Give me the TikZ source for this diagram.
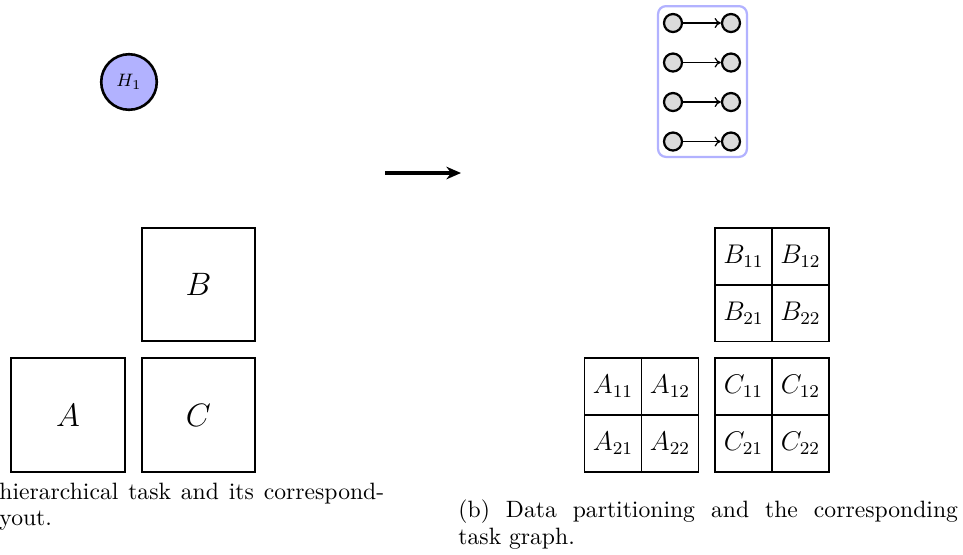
\documentclass[tikz,border=0pt]{standalone}
\usepackage{fontspec}
\usetikzlibrary{arrows.meta}
\begin{document}
\begin{tikzpicture}[x=0.4444pt,y=-0.4444pt,
  cell/.style={draw,line width=0.85pt,minimum size=25.3pt,inner sep=0pt,font=\fontsize{12}{14}\selectfont},
  bigbox/.style={draw,line width=0.85pt,minimum size=50.6pt,inner sep=0pt,font=\fontsize{13.5}{16}\selectfont},
  task/.style={circle,draw,line width=1pt,fill=black!14,minimum size=8pt,inner sep=0pt},
  htask/.style={circle,draw,line width=1.15pt,fill=blue!30,minimum size=24.7pt,inner sep=0pt,font=\fontsize{8.5}{10}\selectfont},
  dep/.style={-{To[length=2.8pt,width=4.5pt]},line width=0.55pt},
  group/.style={draw=blue!30,line width=1pt,rounded corners=3.5pt,minimum width=39.5pt,minimum height=67pt,inner sep=0pt},
  caption/.style={anchor=base west,inner sep=0pt,font=\fontsize{10.5}{12.6}\selectfont}]
\useasboundingbox (0,0) rectangle (963,554);

% left part
\node[htask] (H1) at (129,82) {$H_1$};
\node[bigbox] (B) at (198.5,284.5) {$B$};
\node[bigbox] (A) at (68,415) {$A$};
\node[bigbox] (C) at (198.5,415) {$C$};

% transformation arrow
\coordinate (arrs) at (385,173);
\coordinate (arre) at (461,173);
\draw[line width=1.4pt,-{Stealth[length=6.5pt,width=5.6pt]}] (arrs) -- (arre);

% task graph
\node[group] (grp) at (702.5,81.5) {};
\foreach \i/\y in {1/23,2/62.5,3/102,4/141.5}{
  \node[task] (s\i) at (673,\y) {};
  \node[task] (t\i) at (731,\y) {};
  \draw[dep] (s\i) -- (t\i);
}

% partitioned data
\node[cell] (B11) at (743.5,256.5) {$B_{11}$};
\node[cell] (B12) at (800.5,256.5) {$B_{12}$};
\node[cell] (B21) at (743.5,313) {$B_{21}$};
\node[cell] (B22) at (800.5,313) {$B_{22}$};
\node[cell] (A11) at (613,386.5) {$A_{11}$};
\node[cell] (A12) at (670,386.5) {$A_{12}$};
\node[cell] (A21) at (613,443.5) {$A_{21}$};
\node[cell] (A22) at (670,443.5) {$A_{22}$};
\node[cell] (C11) at (743.5,386.5) {$C_{11}$};
\node[cell] (C12) at (800.5,386.5) {$C_{12}$};
\node[cell] (C21) at (743.5,443.5) {$C_{21}$};
\node[cell] (C22) at (800.5,443.5) {$C_{22}$};

% captions
\node[caption] (capa1) at (-1,499) {\makebox[171pt][s]{hierarchical task and its correspond-}};
\node[caption] (capa2) at (-1,525) {yout.};
\node[caption] (capb1) at (458,517) {\makebox[222pt][s]{(b) Data partitioning and the corresponding}};
\node[caption] (capb2) at (458,544) {task graph.};
\end{tikzpicture}
\end{document}
